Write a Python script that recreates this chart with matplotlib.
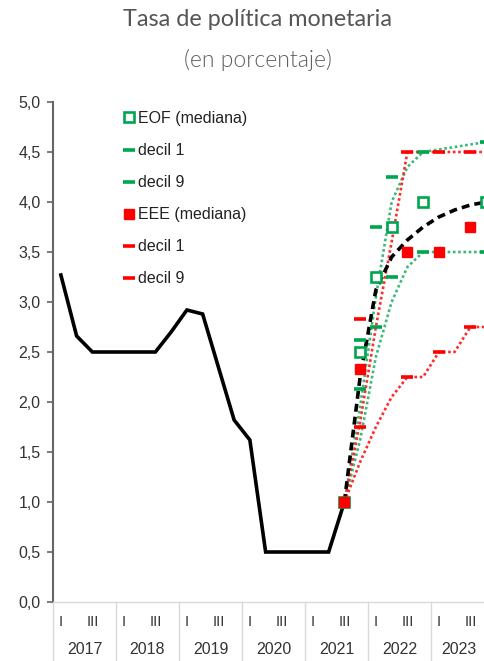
import matplotlib
matplotlib.use("Agg")
import matplotlib.pyplot as plt
import matplotlib.transforms as mtransforms
from matplotlib.lines import Line2D
import numpy as np

# ---------------- data (x = quarter index, 0 = 2017 Q1) ----------------
years = ["2017", "2018", "2019", "2020", "2021", "2022", "2023"]
quarter_labels = ["I", "III"]

hist_q = list(range(19))
hist_tpm = [3.27, 2.66, 2.5, 2.5, 2.5, 2.5, 2.5, 2.7, 2.92, 2.88,
            2.35, 1.82, 1.62, 0.5, 0.5, 0.5, 0.5, 0.5, 1.0]

fc_q = list(range(18, 28))
fc_tpm = [1.0, 2.25, 3.12, 3.45, 3.62, 3.75, 3.85, 3.92, 3.97, 4.0]

# EOF survey
eof_q = [18, 19, 20, 21, 23, 27]
eof_med = [1.0, 2.5, 3.25, 3.75, 4.0, 4.0]
eof_dec_q = [19, 20, 21, 23, 27]
eof_d1 = [2.13, 2.75, 3.25, 3.5, 3.5]
eof_d9 = [2.62, 3.75, 4.25, 4.5, 4.6]

# EEE survey
eee_q = [18, 19, 22, 24, 26]
eee_med = [1.0, 2.33, 3.5, 3.5, 3.75]
eee_dec_q = [19, 22, 24, 26]
eee_d1 = [1.75, 2.25, 2.5, 2.75]
eee_d9 = [2.83, 4.5, 4.5, 4.5]

# dotted decile paths
g_d1_q = [18, 19, 20, 21, 22, 23, 27]
g_d1_v = [1.0, 1.62, 2.45, 3.0, 3.35, 3.5, 3.5]
g_d9_q = [18, 19, 20, 21, 22, 23, 27]
g_d9_v = [1.0, 1.95, 3.05, 4.0, 4.35, 4.5, 4.6]
r_d1_q = [18, 19, 20, 21, 22, 23, 24, 25, 26, 27]
r_d1_v = [1.0, 1.4, 1.75, 2.05, 2.25, 2.25, 2.5, 2.5, 2.75, 2.75]
r_d9_q = [18, 19, 20, 21, 22, 27]
r_d9_v = [1.0, 1.8, 2.75, 3.6, 4.5, 4.5]

# ---------------- style ----------------
GREEN = "#00a550"
GREEN_DOT = "#3cb878"
RED = "#ff0000"
RED_DOT = "#ff2a2a"
FONT = "Liberation Sans"
FS = 11.5

fig = plt.figure(figsize=(4.85, 6.61), dpi=100)
ax = fig.add_axes([53 / 485, 59 / 661, 441 / 485, 500 / 661])
ax.set_xlim(-0.5, 27.5)
ax.set_ylim(0, 5)

# dotted decile lines
dot = (0, (1, 1.0))
ax.plot(g_d1_q, g_d1_v, color=GREEN_DOT, lw=1.9, ls=dot, zorder=2)
ax.plot(g_d9_q, g_d9_v, color=GREEN_DOT, lw=1.9, ls=dot, zorder=2)
ax.plot(r_d1_q, r_d1_v, color=RED_DOT, lw=1.9, ls=dot, zorder=2)
ax.plot(r_d9_q, r_d9_v, color=RED_DOT, lw=1.9, ls=dot, zorder=2)

# main lines
ax.plot(hist_q, hist_tpm, color="black", lw=2.6, solid_joinstyle="miter", zorder=3)
ax.plot(fc_q, fc_tpm, color="black", lw=2.6, dashes=(2.2, 1.4), zorder=3)

# decile dashes
ax.plot(eof_dec_q, eof_d1, ls="none", marker="_", ms=9, mew=2.6, color=GREEN, zorder=4)
ax.plot(eof_dec_q, eof_d9, ls="none", marker="_", ms=9, mew=2.6, color=GREEN, zorder=4)
ax.plot(eee_dec_q, eee_d1, ls="none", marker="_", ms=9, mew=2.6, color=RED, zorder=4)
ax.plot(eee_dec_q, eee_d9, ls="none", marker="_", ms=9, mew=2.6, color=RED, zorder=4)

# medians
ax.plot(eof_q, eof_med, ls="none", marker="s", ms=7.5, mfc="white", mec=GREEN, mew=1.9, zorder=5)
ax.plot(eee_q, eee_med, ls="none", marker="s", ms=6.5, color=RED, zorder=6)

# axes styling
for s in ["top", "right"]:
    ax.spines[s].set_visible(False)
ax.spines["left"].set_color("#666666")
ax.spines["left"].set_linewidth(1.5)
ax.spines["bottom"].set_color("#d9d9d9")
ax.spines["bottom"].set_linewidth(1.0)

yt = np.arange(0, 5.01, 0.5)
ax.set_yticks(yt)
ax.set_yticklabels([f"{v:.1f}".replace(".", ",") for v in yt], family=FONT, fontsize=FS, color="#333333")
ax.tick_params(axis="y", length=4, width=1.2, color="#666666", pad=5)
ax.set_xticks([])

blend = mtransforms.blended_transform_factory(ax.transData, ax.transAxes)
visible_right = 27.0
for i, yr in enumerate(years):
    start = 4 * i - 0.5
    end = min(4 * i + 3.5, visible_right)
    ax.plot([start, start], [0, -0.125], transform=blend, clip_on=False,
            color="#d9d9d9", lw=1.0)
    ax.text(4 * i, -0.04, quarter_labels[0], transform=blend, ha="center", va="center",
            family=FONT, fontsize=FS - 1, color="#333333")
    ax.text(4 * i + 2, -0.04, quarter_labels[1], transform=blend, ha="center", va="center",
            family=FONT, fontsize=FS - 1, color="#333333")
    ax.text((start + end) / 2, -0.096, yr, transform=blend, ha="center", va="center",
            family=FONT, fontsize=FS, color="#333333")

# legend
handles = [
    Line2D([], [], ls="none", marker="s", ms=7, mfc="white", mec=GREEN, mew=1.9),
    Line2D([], [], ls="none", marker="_", ms=9, mew=2.6, color=GREEN),
    Line2D([], [], ls="none", marker="_", ms=9, mew=2.6, color=GREEN),
    Line2D([], [], ls="none", marker="s", ms=6.5, color=RED),
    Line2D([], [], ls="none", marker="_", ms=9, mew=2.6, color=RED),
    Line2D([], [], ls="none", marker="_", ms=9, mew=2.6, color=RED),
]
labels = ["EOF (mediana)", "decil 1", "decil 9", "EEE (mediana)", "decil 1", "decil 9"]
ax.legend(handles, labels, loc="upper left",
          bbox_to_anchor=((123 - 53) / 441, (602 - 111) / 500),
          frameon=False, borderaxespad=0, borderpad=0, handlelength=0.7,
          handletextpad=0.25, labelspacing=1.07,
          prop={"family": FONT, "size": FS}, labelcolor="#222222")

# titles
fig.text(258 / 485, 1 - 19 / 661, "Tasa de política monetaria", ha="center", va="center",
         family="Lato", fontsize=16.8, color="#555555")
fig.text(258 / 485, 1 - 60 / 661, "(en porcentaje)", ha="center", va="center",
         family="Lato", fontweight=300, fontsize=16.5, color="#606060")

fig.savefig("out.png", dpi=100)
